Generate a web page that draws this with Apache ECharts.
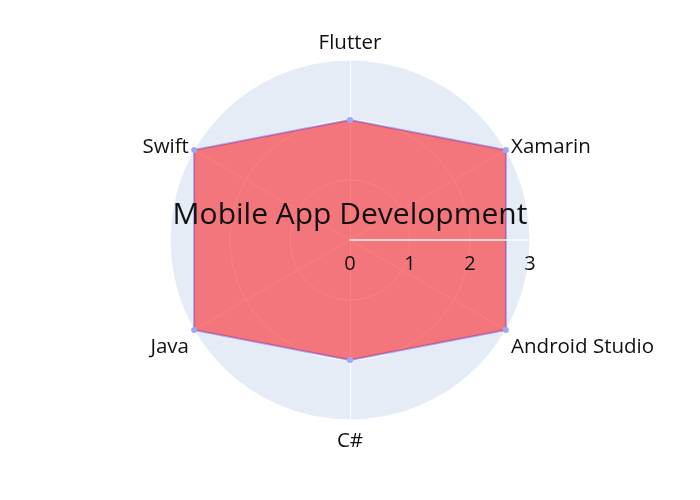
<!DOCTYPE html>
<html><head><meta charset="utf-8">
<script src="https://cdn.jsdelivr.net/npm/echarts@6/dist/echarts.min.js"></script>
<style>html,body{margin:0;padding:0;background:#fff}#c{width:700px;height:500px}</style>
</head><body><div id="c"></div>
<script>
var categories = ['Flutter', 'Xamarin', 'Android Studio', 'C#', 'Java', 'Swift'];
var values = [2, 3, 3, 2, 3, 3];
var radialTicks = [0, 1, 2, 3];
var title = 'Mobile App Development';

// ECharts radar goes counter-clockwise; the reference goes clockwise
var order = [0].concat(categories.slice(1).map(function (_, i) { return categories.length - 1 - i; }));
var maxV = radialTicks[radialTicks.length - 1];
var indicators = order.map(function (i) { return { name: categories[i], max: maxV, min: 0 }; });
var seriesVals = order.map(function (i) { return values[i]; });
var lowerSide = ['Android Studio', 'Java'];
var bottom = ['C#'];

var chart = echarts.init(document.getElementById('c'), null, { renderer: 'canvas' });
chart.setOption({
  animation: false,
  textStyle: { fontFamily: 'Open Sans' },
  title: {
    text: title, left: 'center', top: 195,
    textStyle: { fontFamily: 'Open Sans', fontSize: 30, fontWeight: 'normal', color: '#111' }
  },
  radar: {
    center: [350, 240], radius: 180, startAngle: 90, shape: 'circle',
    splitNumber: 3,
    indicator: indicators,
    axisName: {
      color: '#111', fontSize: 20.5, fontFamily: 'Open Sans',
      formatter: function (name) {
        if (lowerSide.indexOf(name) >= 0) return '{lo|' + name + '}';
        if (bottom.indexOf(name) >= 0) return '{bt|' + name + '}';
        return '{n|' + name + '}';
      },
      rich: {
        n: { color: '#111', fontSize: 20.5, fontFamily: 'Open Sans' },
        lo: { color: '#111', fontSize: 20.5, fontFamily: 'Open Sans', padding: [28, 0, 0, 0] },
        bt: { color: '#111', fontSize: 20.5, fontFamily: 'Open Sans', padding: [5, 0, 0, 0] }
      }
    },
    nameGap: 6,
    splitArea: { show: true, areaStyle: { color: ['#E5ECF6'] } },
    splitLine: { lineStyle: { color: '#ffffff', width: 1 } },
    axisLine: { lineStyle: { color: '#ffffff', width: 1 } },
    axisTick: { show: false }, axisLabel: { show: false }
  },
  polar: { center: [350, 240], radius: 180 },
  angleAxis: { type: 'value', startAngle: 0, min: 0, max: 360, show: false },
  radiusAxis: {
    type: 'value', min: 0, max: maxV, interval: 1, z: 5,
    axisLine: { show: true, lineStyle: { color: 'rgba(255,255,255,0.7)', width: 2 } },
    axisTick: { show: false }, splitLine: { show: false },
    axisLabel: { color: '#111', fontSize: 20, fontFamily: 'Open Sans', margin: -34 }
  },
  series: [{
    type: 'radar', z: 3,
    symbol: 'circle', symbolSize: 6,
    lineStyle: { color: '#9EA7FA', width: 2 },
    itemStyle: { color: '#9EA7FA' },
    areaStyle: { color: 'rgba(255,0,0,0.5)', opacity: 1 },
    data: [{ value: seriesVals, name: title }]
  }]
});
</script></body></html>
